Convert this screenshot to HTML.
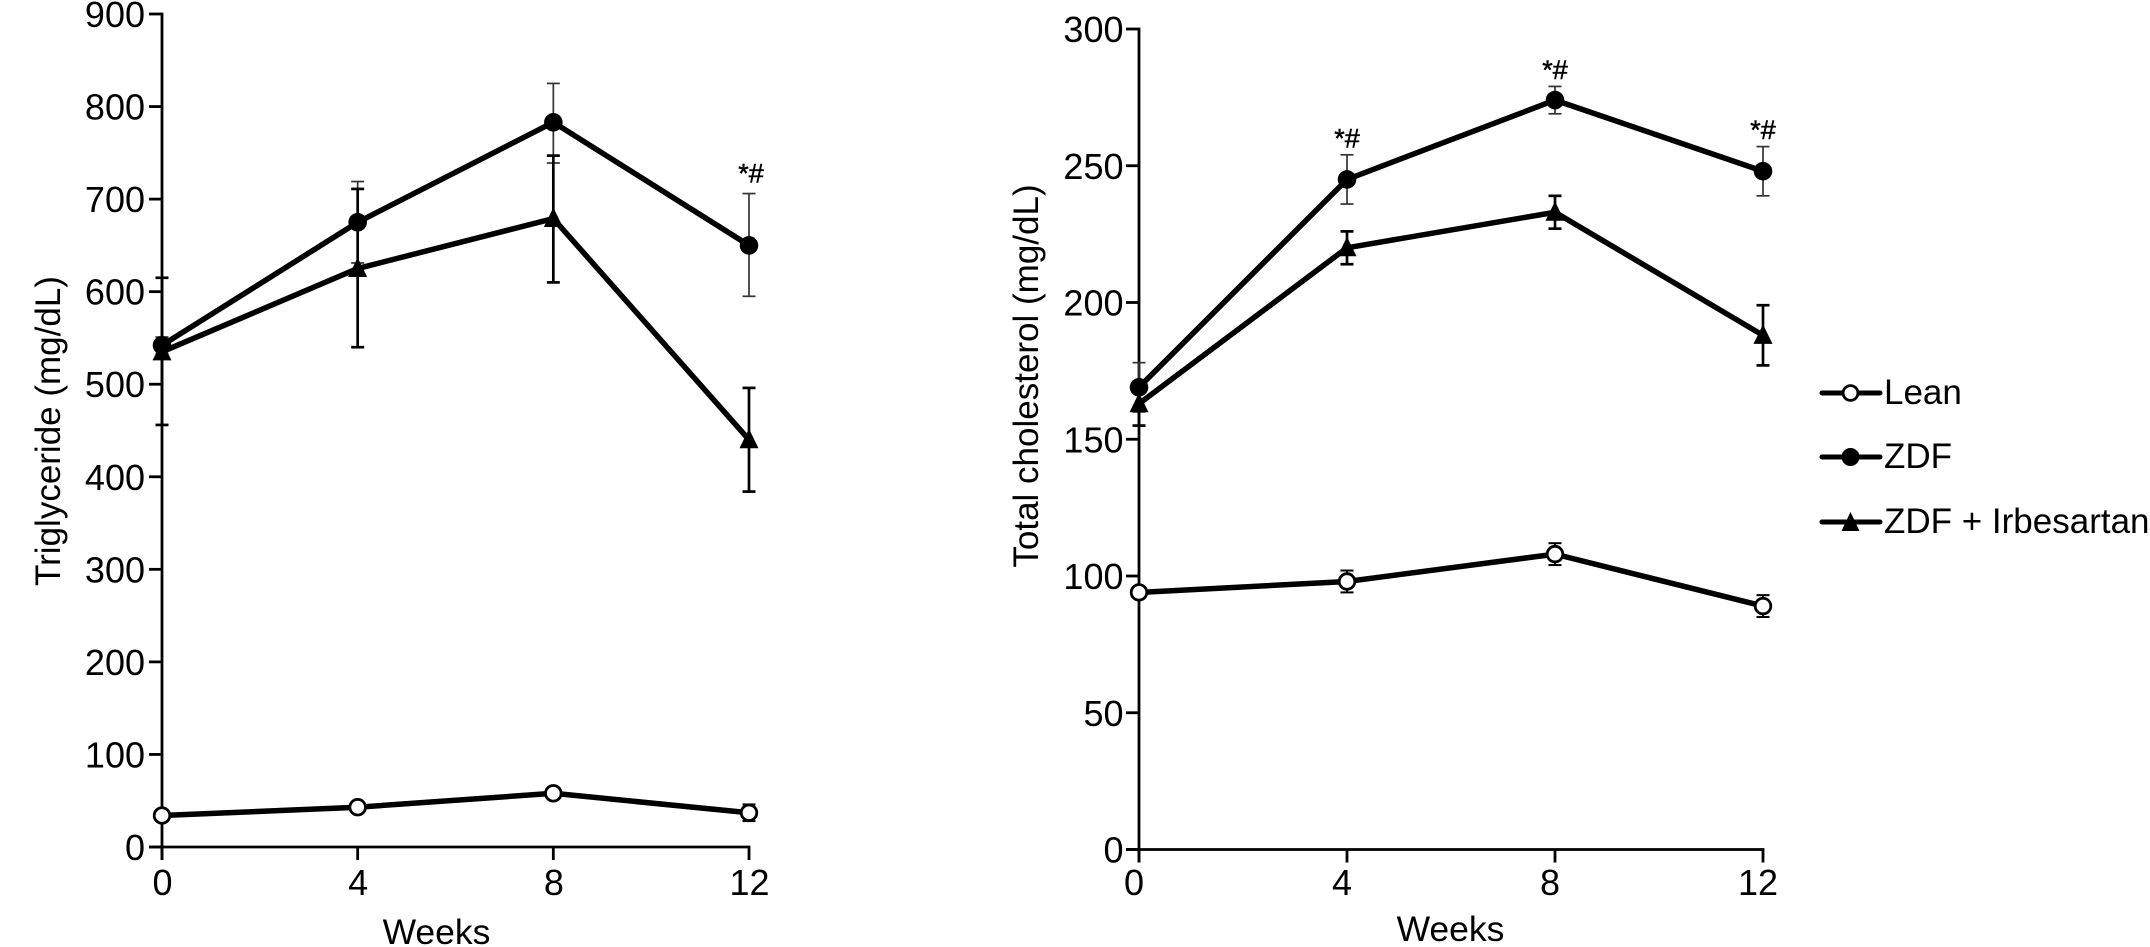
<!DOCTYPE html>
<html lang="en">
<head>
<meta charset="utf-8">
<title>Triglyceride and total cholesterol over weeks</title>
<style>
html,body{margin:0;padding:0;background:#fff;}
svg{display:block;}
text{font-family:"Liberation Sans",Arial,sans-serif;fill:#000;}
</style>
</head>
<body>
<svg id="figure" xmlns="http://www.w3.org/2000/svg" width="2150" height="947" viewBox="0 0 2150 947">
  <g>
    <text transform="translate(60 431) rotate(-90)" font-size="35" text-anchor="middle">Triglyceride (mg/dL)</text>
    <text x="436.5" y="944" font-size="35.5" text-anchor="middle">Weeks</text>
  </g>
  <g>
    <text transform="translate(1038 376) rotate(-90)" font-size="35" text-anchor="middle">Total cholesterol (mg/dL)</text>
    <text x="1450.5" y="941" font-size="35.5" text-anchor="middle">Weeks</text>
  </g>
  <g id="left-panel"></g>
  <g id="right-panel"></g>
  <g stroke-linecap="round">
    <g>
      <line x1="1822" x2="1880" y1="393" y2="393" stroke="#000" stroke-width="5"/>
      <circle cx="1850.5" cy="393" r="7.4" fill="#fff" stroke="#000" stroke-width="2.8"/>
      <text x="1884" y="404" font-size="35">Lean</text>
    </g>
    <g>
      <line x1="1822" x2="1880" y1="457" y2="457" stroke="#000" stroke-width="5"/>
      <circle cx="1850.5" cy="457" r="9" fill="#000"/>
      <text x="1884" y="468" font-size="35">ZDF</text>
    </g>
    <g>
      <line x1="1822" x2="1880" y1="522" y2="522" stroke="#000" stroke-width="5"/>
      <polygon points="1850.5,512 1859.5,531 1841.5,531" fill="#000"/>
      <text x="1884" y="533" font-size="35">ZDF + Irbesartan</text>
    </g>
  </g>
</svg>
<script>
const SVG_NS = 'http://www.w3.org/2000/svg';

// Shared categories
const weeks = [0, 4, 8, 12];

// Triglyceride panel
const tgTicks = [0, 100, 200, 300, 400, 500, 600, 700, 800, 900];
const tgLean = [34, 43, 58, 37];
const tgLeanHigh = [38, 47, 62, 46];
const tgLeanLow = [30, 39, 54, 28];
const tgZdf = [542, 675, 783, 650];
const tgZdfHigh = [551, 719, 825, 706];
const tgZdfLow = [533, 631, 739, 595];
const tgIrb = [535, 625, 679, 440];
const tgIrbHigh = [615, 711, 747, 496];
const tgIrbLow = [456, 540, 610, 384];
const tgStars = ['', '', '', '*#'];

// Total cholesterol panel
const tcTicks = [0, 50, 100, 150, 200, 250, 300];
const tcLean = [94, 98, 108, 89];
const tcLeanHigh = [96, 102, 112, 93];
const tcLeanLow = [92, 94, 104, 85];
const tcZdf = [169, 245, 274, 248];
const tcZdfHigh = [178, 254, 279, 257];
const tcZdfLow = [160, 236, 269, 239];
const tcIrb = [163, 220, 233, 188];
const tcIrbHigh = [171, 226, 239, 199];
const tcIrbLow = [155, 214, 227, 177];
const tcStars = ['', '*#', '*#', '*#'];

function mk(tag, attrs, parent, txt) {
  const n = document.createElementNS(SVG_NS, tag);
  for (const k in attrs) n.setAttribute(k, attrs[k]);
  if (txt !== undefined) n.textContent = txt;
  parent.appendChild(n);
  return n;
}

function drawPanel(cfg) {
  const root = document.getElementById(cfg.id);
  const xMax = weeks[weeks.length - 1];
  const sx = v => cfg.x0 + (cfg.x1 - cfg.x0) * v / xMax;
  const sy = v => cfg.y0 - (cfg.y0 - cfg.y1) * v / cfg.yMax;

  const yLine = mk('line', {x1: cfg.x0, x2: cfg.x0, y1: sy(cfg.yMax) - 1.4, y2: cfg.y0 + 13, stroke: '#000', 'stroke-width': 2.8}, root);
  
  
  const xLine = mk('line', {x1: cfg.x0 - 13, x2: cfg.x1 + 1.4, y1: cfg.y0, y2: cfg.y0, stroke: '#000', 'stroke-width': 2.8}, root);
  
  

  cfg.ticks.forEach(t => {
    const tick = mk('line', {x1: cfg.x0 - 13, x2: cfg.x0, y1: sy(t), y2: sy(t), stroke: '#000', 'stroke-width': 2.8}, root);
    
    
    const label = mk('text', {x: cfg.x0 - cfg.yLabelGap, y: sy(t) + 13, 'font-size': 36, 'text-anchor': 'end'}, root, String(t));
    
    
  });

  weeks.forEach(w => {
    const tick = mk('line', {x1: sx(w), x2: sx(w), y1: cfg.y0, y2: cfg.y0 + 13, stroke: '#000', 'stroke-width': 2.8}, root);
    
    
    const label = mk('text', {x: sx(w) + cfg.xLabelDx, y: 895, 'font-size': 36, 'text-anchor': 'middle'}, root, String(w));
    
    
  });

  cfg.series.forEach(s => {
    const g = mk('g', {}, root);
    
    

    weeks.forEach((w, i) => {
      const x = sx(w);
      const bar = mk('line', {x1: x, x2: x, y1: sy(s.high[i]), y2: sy(s.low[i]), stroke: s.errColor, 'stroke-width': s.errWidth}, g);
      
      
      const capHigh = mk('line', {x1: x - 6.5, x2: x + 6.5, y1: sy(s.high[i]), y2: sy(s.high[i]), stroke: s.errColor, 'stroke-width': s.errWidth}, g);
      
      
      const capLow = mk('line', {x1: x - 6.5, x2: x + 6.5, y1: sy(s.low[i]), y2: sy(s.low[i]), stroke: s.errColor, 'stroke-width': s.errWidth}, g);
      
      
    });

    const pts = weeks.map((w, i) => sx(w) + ',' + sy(s.values[i])).join(' ');
    const line = mk('polyline', {points: pts, fill: 'none', stroke: '#000', 'stroke-width': 5.5, 'stroke-linejoin': 'miter'}, g);
    
    
  });

  cfg.series.forEach(s => {
    const g = mk('g', {}, root);
    
    
    weeks.forEach((w, i) => {
      const x = sx(w), y = sy(s.values[i]);
      let m;
      if (s.marker === 'open') {
        m = mk('circle', {cx: x, cy: y, r: 7.8, fill: '#fff', stroke: '#000', 'stroke-width': 2.8}, g);
      } else if (s.marker === 'filled') {
        m = mk('circle', {cx: x, cy: y, r: 9.3, fill: '#000'}, g);
      } else {
        m = mk('polygon', {points: x + ',' + (y - 11) + ' ' + (x + 9.5) + ',' + (y + 8.5) + ' ' + (x - 9.5) + ',' + (y + 8.5), fill: '#000'}, g);
      }
      
      
    });
  });

  cfg.stars.forEach((star, i) => {
    if (!star) return;
    const x = sx(weeks[i]) + cfg.starDx;
    const y = sy(cfg.starSeries.high[i]) - cfg.starGap;
    const t = mk('text', {x: x, y: y, 'font-size': 27, 'text-anchor': 'middle', stroke: '#000', 'stroke-width': 0.5}, root, star);
    
    
  });
}

const tgZdfSeries = {name: 'zdf', values: tgZdf, high: tgZdfHigh, low: tgZdfLow, marker: 'filled', errColor: '#333', errWidth: 1.7};
const tcZdfSeries = {name: 'zdf', values: tcZdf, high: tcZdfHigh, low: tcZdfLow, marker: 'filled', errColor: '#333', errWidth: 1.7};

drawPanel({
  id: 'left-panel', key: 'triglyceride',
  x0: 162, x1: 749, y0: 847, y1: 14, yMax: 900,
  ticks: tgTicks, yLabelGap: 17, xLabelDx: 0.5,
  stars: tgStars, starSeries: tgZdfSeries, starDx: 2, starGap: 11,
  series: [
    {name: 'lean', values: tgLean, high: tgLeanHigh, low: tgLeanLow, marker: 'open', errColor: '#000', errWidth: 2},
    tgZdfSeries,
    {name: 'zdf-irbesartan', values: tgIrb, high: tgIrbHigh, low: tgIrbLow, marker: 'triangle', errColor: '#000', errWidth: 2.7}
  ]
});

drawPanel({
  id: 'right-panel', key: 'cholesterol',
  x0: 1139, x1: 1763, y0: 849.5, y1: 29, yMax: 300,
  ticks: tcTicks, yLabelGap: 15.5, xLabelDx: -5,
  stars: tcStars, starSeries: tcZdfSeries, starDx: 0, starGap: 7.5,
  series: [
    {name: 'lean', values: tcLean, high: tcLeanHigh, low: tcLeanLow, marker: 'open', errColor: '#000', errWidth: 2},
    tcZdfSeries,
    {name: 'zdf-irbesartan', values: tcIrb, high: tcIrbHigh, low: tcIrbLow, marker: 'triangle', errColor: '#000', errWidth: 2.7}
  ]
});
</script>
</body>
</html>
